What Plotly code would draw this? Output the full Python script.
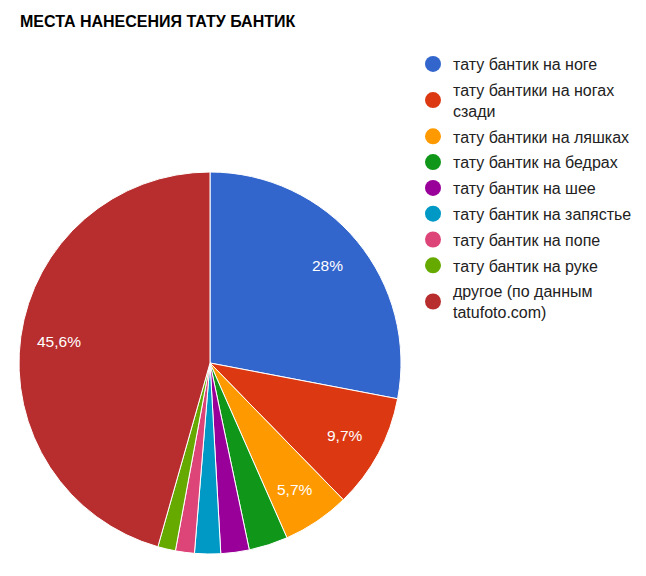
import math
import plotly.graph_objects as go

labels = [
    "тату бантик на ноге",
    "тату бантики на ногах<br>сзади",
    "тату бантики на ляшках",
    "тату бантик на бедрах",
    "тату бантик на шее",
    "тату бантик на запястье",
    "тату бантик на попе",
    "тату бантик на руке",
    "другое (по данным<br>tatufoto.com)",
]
values = [28.0, 9.7, 5.7, 3.3, 2.4, 2.2, 1.6, 1.5, 45.6]
colors = ["#3366cc", "#dc3912", "#ff9900", "#109618", "#990099",
          "#0099c6", "#dd4477", "#66aa00", "#b82e2e"]

W, H = 646, 576
OFF = 8  # page body margin that shifts the figure
cx, cy, R = 210 - OFF, 363 - OFF, 191  # pie centre and radius in figure pixels

fig = go.Figure()
fig.add_trace(go.Pie(
    labels=labels,
    values=values,
    textinfo="none",
    marker=dict(colors=colors, line=dict(color="white", width=1)),
    sort=False,
    direction="clockwise",
    rotation=0,
    showlegend=False,
    domain=dict(x=[(cx - R) / W, (cx + R) / W],
                y=[1 - (cy + R) / H, 1 - (cy - R) / H]),
    hoverinfo="label+percent",
))

# percentage labels placed like Google Charts: at 0.8 R on the slice bisector
total = sum(values)
cum = 0
for v in values:
    p = v / total * 100
    mid = (cum + v / 2) / total * 2 * math.pi
    cum += v
    if p < 5:
        continue
    s = ("%.1f" % p).rstrip("0").rstrip(".").replace(".", ",") + "%"
    px_ = cx + 0.8 * R * math.sin(mid)
    py_ = cy - 0.8 * R * math.cos(mid)
    fig.add_annotation(x=px_ / W, y=1 - py_ / H, xref="paper", yref="paper",
                       xanchor="center", yanchor="middle",
                       text=s, showarrow=False,
                       font=dict(color="white", size=15.5))

# circle markers for the legend
for i, (lab, c) in enumerate(zip(labels, colors)):
    fig.add_trace(go.Scatter(
        x=[None], y=[None], mode="markers", name=lab,
        marker=dict(color=c, size=16, symbol="circle"),
        legendgroup="g%d" % i, showlegend=True,
    ))

fig.update_layout(
    width=W, height=H,
    margin=dict(l=0, r=0, t=0, b=0),
    paper_bgcolor="white", plot_bgcolor="white",
    font=dict(family="Liberation Sans, Arial", size=16, color="#222222"),
    title=dict(text="<b>МЕСТА НАНЕСЕНИЯ ТАТУ БАНТИК</b>", x=12 / W, xanchor="left",
               y=1 - 13 / H, yanchor="middle",
               font=dict(size=16, color="#000000")),
    xaxis=dict(visible=False),
    yaxis=dict(visible=False),
    legend=dict(x=405 / W, xanchor="left", y=1 - 39 / H, yanchor="top",
                tracegroupgap=2, itemwidth=30,
                font=dict(size=16, color="#222222"), bgcolor="rgba(0,0,0,0)"),
)

fig.write_html("out.html")
